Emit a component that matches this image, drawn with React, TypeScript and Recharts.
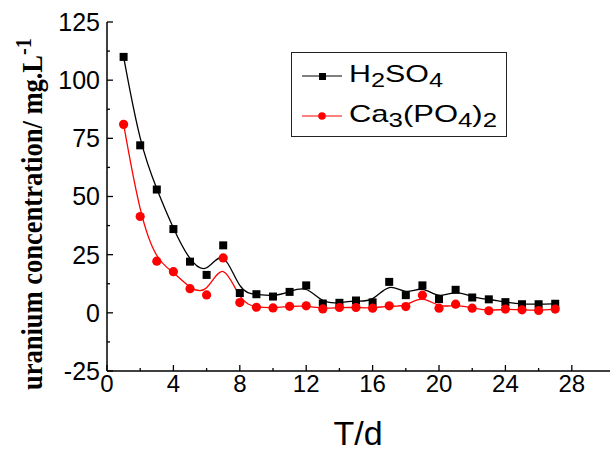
import { LineChart, Line, XAxis, YAxis, Legend } from 'recharts'

const days = [1, 2, 3, 4, 5, 6, 7, 8, 9, 10, 11, 12, 13, 14, 15, 16, 17, 18, 19, 20, 21, 22, 23, 24, 25, 26, 27]
const h2so4 = [110, 72, 53, 36, 22, 16.3, 29, 8.5, 8, 7, 9, 11.8, 4, 4.3, 5.3, 4.5, 13.3, 7.6, 11.8, 5.9, 9.9, 6.6, 5.8, 4.6, 3.7, 3.7, 3.9]
const caPO4 = [81, 41.4, 22.2, 17.7, 10.4, 7.7, 23.6, 4.4, 2.4, 2.1, 2.8, 3, 1.7, 2.3, 2.3, 2, 3, 2.7, 7.6, 2, 3.7, 2, 0.9, 1.6, 1.3, 1, 1.6]

const xTicks = [0, 2, 4, 6, 8, 10, 12, 14, 16, 18, 20, 22, 24, 26, 28]
const yTicks = [-25, -12.5, 0, 12.5, 25, 37.5, 50, 62.5, 75, 87.5, 100, 112.5, 125]

const data = days.map((d, i) => ({ day: d, h2so4: h2so4[i], ca: caPO4[i] }))

const FONT = '"Liberation Sans", Arial, sans-serif'

const XTick = (props: any) => {
	const { x, y, payload } = props
	const major = payload.value % 4 === 0
	return (
		<g>
			<line x1={x} x2={x} y1={y} y2={y - (major ? 6 : 3)} stroke='#000' strokeWidth={1.3} />
			{major && (
				<text x={x} y={y + 4} dy='0.71em' textAnchor='middle' fontSize={24} fontFamily={FONT} fill='#000'>
					{payload.value}
				</text>
			)}
		</g>
	)
}

const YTick = (props: any) => {
	const { x, y, payload } = props
	const major = payload.value % 25 === 0
	return (
		<g>
			<line x1={x} x2={x + (major ? 6 : 3)} y1={y} y2={y} stroke='#000' strokeWidth={1.3} />
			{major && (
				<text x={x - 7} y={y} dy='0.355em' textAnchor='end' fontSize={25} fontFamily={FONT} fill='#000'>
					{payload.value}
				</text>
			)}
		</g>
	)
}

const Square = (props: any) => {
	const { cx, cy, index } = props
	return <rect key={'s' + index} x={cx - 4} y={cy - 4} width={8} height={8} fill='#000' />
}

const Dot = (props: any) => {
	const { cx, cy, index } = props
	return <circle key={'c' + index} cx={cx} cy={cy} r={4.6} fill='#ff0000' />
}

const LegendBox = () => (
	<svg width={216} height={85} style={{ display: 'block' }}>
		<rect x={0.5} y={0.5} width={215} height={84} fill='#fff' stroke='#222' strokeWidth={1} />
		<line x1={11} x2={51} y1={24} y2={24} stroke='#000' strokeWidth={1} />
		<rect x={28} y={21} width={7} height={7} fill='#000' />
		<text x={58} y={30} fontSize={24} fontFamily={FONT} fill='#000' textLength={94} lengthAdjust='spacingAndGlyphs'>
			H<tspan fontSize={20} dy={5}>2</tspan>
			<tspan dy={-5}>SO</tspan>
			<tspan fontSize={20} dy={5}>4</tspan>
		</text>
		<line x1={11} x2={51} y1={64} y2={64} stroke='#ff0000' strokeWidth={1} />
		<circle cx={31} cy={64} r={3.8} fill='#ff0000' />
		<text x={58} y={70} fontSize={24} fontFamily={FONT} fill='#000' textLength={148} lengthAdjust='spacingAndGlyphs'>
			Ca<tspan fontSize={20} dy={5}>3</tspan>
			<tspan dy={-5}>(PO</tspan>
			<tspan fontSize={20} dy={5}>4</tspan>
			<tspan dy={-5}>)</tspan>
			<tspan fontSize={20} dy={5}>2</tspan>
		</text>
	</svg>
)

const YTitle = () => (
	<text
		x={42}
		y={214}
		transform='rotate(-90, 42, 214)'
		textAnchor='middle'
		fontSize={30}
		fontWeight='bold'
		fontFamily='"Liberation Serif", "Times New Roman", serif'
		fill='#000'
		textLength={352}
		lengthAdjust='spacingAndGlyphs'
	>
		uranium concentration/ mg.L<tspan fontSize={23} dy={-11}>-1</tspan>
	</text>
)

const XTitle = () => (
	<text x={358} y={445} textAnchor='middle' fontSize={34} fontFamily={FONT} fill='#000'>
		T/d
	</text>
)

const App = () => {
	return (
		<div style={{ position: 'absolute', left: 0, top: 0 }}>
			<LineChart width={610} height={452} data={data} margin={{ top: 22, right: 0, left: 0, bottom: 0 }}>
				<XAxis
					dataKey='day'
					type='number'
					domain={[0, 30.3]}
					ticks={xTicks}
					interval={0}
					height={81}
					tickSize={0}
					tickMargin={0}
					tickLine={false}
					axisLine={{ stroke: '#000', strokeWidth: 1.5 }}
					tick={<XTick />}
					label={<XTitle />}
				/>
				<YAxis
					type='number'
					domain={[-25, 125]}
					ticks={yTicks}
					interval={0}
					width={107}
					tickSize={0}
					tickMargin={0}
					tickLine={false}
					axisLine={{ stroke: '#000', strokeWidth: 1.5 }}
					tick={<YTick />}
					label={<YTitle />}
				/>
				<Legend
					layout='horizontal'
					verticalAlign='middle'
					align='center'
					wrapperStyle={{ left: 291, top: 52, width: 216, height: 85 }}
					content={() => <LegendBox />}
				/>
				<Line
					dataKey='h2so4'
					type='basis'
					stroke='#000'
					strokeWidth={1.3}
					dot={<Square />}
					activeDot={false}
					isAnimationActive={false}
				/>
				<Line
					dataKey='ca'
					type='basis'
					stroke='#ff0000'
					strokeWidth={1.3}
					dot={<Dot />}
					activeDot={false}
					isAnimationActive={false}
				/>
			</LineChart>
		</div>
	)
}

export default App
